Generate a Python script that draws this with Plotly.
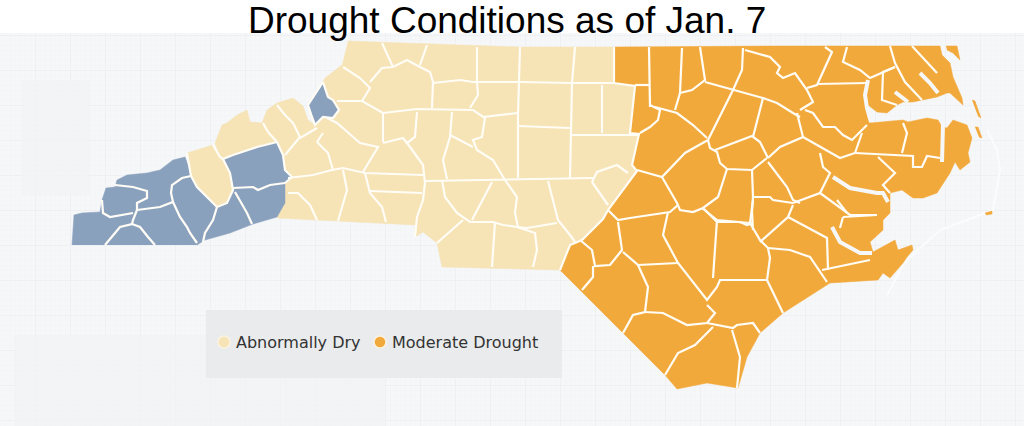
import plotly.graph_objects as go

WIDTH = 1024
HEIGHT = 426

TITLE = "Drought Conditions as of Jan. 7"
LEGEND_LABELS = ["Abnormally Dry", "Moderate Drought"]
LEGEND_X = [224, 380]
LEGEND_Y = [342, 342]
LEGEND_TEXT_X = [236, 392]
LEGEND_TEXT_Y = [344, 344]

COLOR_DRY = "#f6e3b6"
COLOR_MODERATE = "#f2a93b"
COLOR_OTHER = "#8aa1bd"
COLOR_WATER = "#f6f7f9"
COLOR_LINE = "#fffdf6"

# region outlines
DRY_OUTLINE = [
    (348, 41), (427, 44), (477, 46), (520, 47), (575, 47), (615, 47), (614, 83), (635, 86),
    (630, 133), (639, 134), (632, 165), (637, 171), (608, 210), (603, 219), (582, 240),
    (570, 245), (565, 257), (560, 270), (442, 267), (437, 243), (423, 232), (415, 237),
    (415, 225), (277, 218), (285, 203), (285, 183), (292, 177), (285, 170), (283, 155),
    (277, 142), (257, 147), (233, 155), (223, 159), (220, 157), (215, 143), (222, 125),
    (227, 123), (237, 115), (247, 110), (250, 122), (262, 123), (267, 110), (277, 103),
    (293, 98), (303, 106), (308, 120), (315, 125), (323, 82), (325, 78), (342, 65),
]
MODERATE_OUTLINE = [
    (615, 47), (780, 46), (940, 46), (942, 55), (950, 63), (953, 77), (962, 98), (963, 105),
    (950, 93), (947, 93), (937, 97), (923, 100), (913, 102), (903, 102), (897, 105),
    (887, 113), (877, 112), (868, 105), (867, 115), (870, 123), (903, 120), (908, 122),
    (927, 118), (938, 120), (942, 127), (947, 128), (953, 120), (967, 125), (972, 138),
    (968, 153), (970, 162), (960, 170), (955, 162), (950, 173), (937, 193), (923, 198),
    (913, 198), (902, 190), (890, 193), (890, 205), (890, 213), (883, 220), (883, 230),
    (870, 242), (873, 252), (895, 240), (898, 250), (912, 245), (913, 250), (907, 257),
    (903, 263), (890, 278), (883, 273), (878, 280), (830, 283), (783, 313), (760, 333),
    (747, 357), (738, 388), (707, 383), (677, 389), (665, 375), (560, 270), (565, 257),
    (570, 245), (582, 240), (603, 219), (608, 210), (637, 171), (632, 165), (639, 134),
    (630, 133), (635, 86), (614, 83),
]
OTHER_WEST = [
    (72, 245), (74, 215), (82, 213), (100, 212), (102, 200), (106, 188), (115, 187),
    (117, 180), (127, 175), (147, 173), (160, 170), (173, 160), (185, 157), (188, 165),
    (191, 176), (197, 187), (207, 197), (217, 207), (227, 203), (233, 190), (230, 173),
    (223, 159), (233, 155), (257, 147), (277, 142), (283, 155), (285, 170), (292, 177),
    (285, 183), (285, 203), (277, 217), (253, 224), (230, 233), (205, 240), (197, 245),
]
OTHER_AVERY = [
    (323, 82), (308, 105), (312, 117), (315, 125), (323, 117), (333, 118), (339, 110),
    (333, 100), (328, 97),
]
DRY_YELLOW_COUNTY = [
    (187, 153), (213, 145), (220, 157), (223, 159), (230, 173), (233, 190), (227, 203),
    (217, 207), (207, 197), (197, 187), (191, 176),
]
ISLANDS = [
    [(946, 46), (957, 46), (960, 60), (953, 53), (947, 50)],
    [(972, 100), (975, 101), (981, 118), (978, 116)],
    [(975, 127), (978, 127), (982, 138), (979, 137)],
    [(985, 213), (992, 211), (992, 214), (986, 215)],
]

# rivers and sounds cut through the coast
WATER_LINES = [
    [(868, 80), (865, 95), (867, 108), (871, 122)],
    [(943, 124), (942, 162)],
    [(920, 73), (930, 83), (938, 93)],
    [(895, 92), (908, 102)],
    [(833, 177), (850, 188), (877, 193), (883, 193), (888, 202)],
    [(832, 227), (840, 242), (860, 253), (872, 253)],
]
BANKS_LINE = [
    (987, 130), (997, 150), (1000, 170), (993, 210), (967, 220), (940, 230), (905, 262), (887, 295),
]

WEST_COUNTY_LINES = [
    [(115, 185), (133, 187), (147, 191), (147, 198), (137, 203), (137, 210), (133, 220), (132, 224),
     (120, 227), (112, 237), (105, 245)],
    [(132, 224), (140, 227), (148, 237), (155, 245)],
    [(102, 200), (103, 213), (110, 217), (133, 213)],
    [(137, 210), (160, 207), (173, 202), (180, 217), (187, 227), (190, 233), (197, 243)],
    [(191, 176), (182, 178), (172, 185), (171, 193), (173, 202)],
    [(217, 207), (213, 220), (205, 233), (203, 242)],
    [(235, 192), (247, 213), (252, 224)],
    [(233, 188), (253, 187), (258, 190), (270, 185), (285, 183)],
    [(187, 153), (191, 176), (197, 187), (207, 197), (217, 207), (227, 203), (233, 190), (230, 173),
     (223, 159), (220, 157), (213, 145)],
    [(223, 159), (233, 155), (257, 147), (277, 142), (283, 155), (285, 170), (292, 177), (285, 183)],
    [(323, 82), (308, 105), (312, 117), (315, 125), (323, 117), (333, 118), (339, 110), (333, 100),
     (328, 97), (323, 82)],
]
DRY_COUNTY_LINES = [
    [(268, 132), (277, 142)],
    [(263, 123), (268, 132)],
    [(277, 105), (285, 115), (293, 123), (300, 137), (285, 155)],
    [(300, 138), (317, 128)],
    [(317, 142), (328, 153), (333, 170)],
    [(323, 133), (317, 142)],
    [(288, 193), (298, 193), (310, 205), (317, 220)],
    [(288, 178), (313, 175), (332, 170), (343, 168), (365, 173), (423, 175)],
    [(343, 170), (347, 190), (338, 221)],
    [(365, 173), (370, 193), (382, 207), (386, 222)],
    [(370, 191), (422, 193)],
    [(327, 118), (337, 123), (360, 143), (370, 145), (378, 147), (363, 172)],
    [(337, 101), (362, 101), (383, 113)],
    [(343, 67), (360, 78), (370, 88), (362, 101)],
    [(370, 82), (382, 68), (393, 67), (407, 60), (420, 67), (430, 72), (433, 82), (432, 108)],
    [(382, 43), (393, 67)],
    [(427, 45), (420, 65)],
    [(433, 83), (460, 80), (473, 82), (520, 82), (572, 83), (614, 83)],
    [(477, 47), (477, 82), (478, 95), (470, 108)],
    [(520, 47), (518, 115), (518, 178)],
    [(575, 47), (572, 83), (570, 178)],
    [(383, 113), (417, 109), (473, 110), (485, 118), (482, 137), (473, 140), (477, 150), (493, 160),
     (505, 180), (517, 197), (515, 213), (518, 227)],
    [(483, 117), (518, 113)],
    [(518, 126), (570, 128)],
    [(383, 113), (383, 142)],
    [(383, 143), (403, 138), (410, 147), (423, 165), (425, 183), (423, 200), (417, 217), (415, 237)],
    [(417, 112), (415, 137), (407, 143)],
    [(452, 112), (450, 137), (443, 160), (447, 179)],
    [(450, 135), (473, 147)],
    [(425, 181), (593, 178)],
    [(442, 180), (445, 197), (457, 213), (470, 222), (493, 222), (503, 225), (517, 227), (527, 228),
     (557, 223)],
    [(492, 182), (472, 220)],
    [(463, 220), (437, 243)],
    [(495, 222), (492, 267)],
    [(517, 227), (535, 233), (537, 250), (533, 267)],
    [(548, 181), (558, 220), (570, 235), (575, 242)],
    [(592, 182), (597, 172), (617, 165), (628, 173)],
    [(592, 182), (600, 193), (608, 205)],
    [(602, 85), (602, 133)],
    [(572, 135), (639, 135)],
]
MODERATE_COUNTY_LINES = [
    [(614, 47), (614, 83), (635, 86), (630, 133), (639, 134), (632, 165), (637, 171), (608, 210),
     (603, 219), (582, 240), (570, 245), (565, 257), (560, 270)],
    [(649, 47), (650, 107)],
    [(635, 85), (650, 85)],
    [(650, 105), (660, 110), (658, 120), (650, 127), (640, 133)],
    [(655, 107), (677, 113), (693, 125), (707, 138)],
    [(682, 48), (680, 93), (675, 110)],
    [(700, 47), (705, 80), (692, 90), (680, 93)],
    [(705, 82), (733, 90), (763, 98), (753, 137)],
    [(743, 48), (742, 70), (733, 90), (708, 140)],
    [(745, 50), (770, 57), (780, 67), (777, 73), (783, 78), (795, 73), (807, 90), (813, 102), (800, 110)],
    [(763, 98), (777, 103), (793, 113), (800, 117)],
    [(708, 140), (685, 153), (662, 177), (637, 170)],
    [(708, 140), (710, 148), (717, 152), (720, 163), (727, 169), (752, 170), (767, 158)],
    [(715, 150), (752, 136), (760, 142), (768, 158)],
    [(768, 158), (780, 147), (803, 137), (797, 113)],
    [(768, 162), (787, 187), (793, 200), (800, 203)],
    [(752, 170), (753, 197), (752, 212), (753, 230)],
    [(753, 197), (770, 197), (773, 200), (793, 203)],
    [(727, 169), (718, 197), (703, 208), (693, 212), (680, 210), (677, 203), (662, 177)],
    [(703, 208), (717, 222), (740, 222), (747, 225), (753, 223)],
    [(678, 205), (670, 212), (630, 218), (618, 220), (608, 210)],
    [(618, 222), (622, 250), (610, 265), (595, 266), (592, 250), (580, 240)],
    [(593, 266), (593, 277), (582, 290)],
    [(623, 252), (638, 265), (648, 287), (645, 312), (633, 315), (623, 333)],
    [(638, 265), (678, 263)],
    [(668, 212), (663, 235), (678, 263), (707, 300), (717, 287), (720, 280), (767, 280)],
    [(717, 220), (713, 278)],
    [(702, 208), (717, 220), (750, 223), (753, 200)],
    [(750, 223), (760, 240), (768, 248), (770, 258), (767, 280), (783, 313)],
    [(760, 242), (788, 217), (793, 205)],
    [(788, 217), (827, 238), (828, 270)],
    [(768, 248), (790, 250), (810, 257), (827, 282)],
    [(822, 270), (870, 260)],
    [(843, 217), (877, 215)],
    [(843, 217), (840, 228)],
    [(847, 213), (837, 200)],
    [(645, 312), (663, 313), (687, 325), (707, 323), (715, 313), (707, 305)],
    [(707, 323), (733, 328), (737, 325), (753, 323), (760, 333)],
    [(713, 327), (695, 345), (678, 353), (665, 375)],
    [(732, 330), (740, 357), (737, 388)],
    [(825, 47), (832, 52), (817, 85), (807, 88)],
    [(817, 84), (867, 83)],
    [(847, 47), (843, 62), (860, 70), (870, 78), (895, 67)],
    [(890, 46), (895, 63), (905, 82), (922, 100)],
    [(912, 46), (937, 73)],
    [(895, 67), (883, 72), (882, 100), (897, 105)],
    [(805, 110), (813, 113), (823, 127), (835, 127), (843, 135), (852, 140), (867, 125)],
    [(803, 137), (840, 158), (855, 153), (862, 133)],
    [(855, 153), (913, 156), (913, 167), (922, 167), (927, 156), (940, 158)],
    [(903, 123), (907, 133), (902, 153)],
    [(820, 153), (823, 167), (830, 173), (820, 193), (793, 203)],
    [(820, 193), (850, 215), (877, 215)],
    [(878, 157), (895, 173), (883, 185), (890, 193)],
]


def _xy(lines):
    """Flatten polylines into x/y lists with None gaps between them."""
    xs, ys = [], []
    for line in lines:
        xs += [p[0] for p in line] + [None]
        ys += [p[1] for p in line] + [None]
    return xs, ys


def _fill(lines, color, name):
    xs, ys = _xy(lines)
    return go.Scatter(x=xs, y=ys, mode="lines", fill="toself", fillcolor=color, name=name,
                      line=dict(color=color, width=0.5), hoverinfo="name", showlegend=False)


def _stroke(lines, color, width):
    xs, ys = _xy(lines)
    return go.Scatter(x=xs, y=ys, mode="lines", line=dict(color=color, width=width),
                      hoverinfo="skip", showlegend=False)


fig = go.Figure()
fig.add_trace(_stroke([BANKS_LINE], "#fbfcfd", 2))
fig.add_trace(_fill([DRY_OUTLINE], COLOR_DRY, LEGEND_LABELS[0]))
fig.add_trace(_fill([MODERATE_OUTLINE] + ISLANDS, COLOR_MODERATE, LEGEND_LABELS[1]))
fig.add_trace(_fill([OTHER_WEST, OTHER_AVERY], COLOR_OTHER, "Other"))
fig.add_trace(_fill([DRY_YELLOW_COUNTY], COLOR_DRY, LEGEND_LABELS[0]))
fig.add_trace(_stroke(WATER_LINES, COLOR_WATER, 4))
fig.add_trace(_stroke(WEST_COUNTY_LINES + DRY_COUNTY_LINES + MODERATE_COUNTY_LINES, COLOR_LINE, 2.2))
fig.add_trace(go.Scatter(
    x=LEGEND_X, y=LEGEND_Y, mode="markers",
    marker=dict(size=12, color=[COLOR_DRY, COLOR_MODERATE], line=dict(color="#fbf3df", width=1.5)),
    hoverinfo="skip", showlegend=False,
))
fig.add_trace(go.Scatter(
    x=LEGEND_TEXT_X, y=LEGEND_TEXT_Y, mode="text",
    text=LEGEND_LABELS, textposition="middle right",
    textfont=dict(family="DejaVu Sans", size=16, color="#333333"),
    hoverinfo="skip", showlegend=False,
))

# white band behind the title, faint panels and the legend box (over the grid, under the map)
fig.add_shape(type="rect", x0=0, x1=WIDTH, y0=0, y1=33, layer="between", fillcolor="white", line_width=0)
fig.add_shape(type="rect", x0=22, x1=90, y0=80, y1=195, layer="between", fillcolor="#f1f2f4", opacity=0.8, line_width=0)
fig.add_shape(type="rect", x0=14, x1=385, y0=335, y1=426, layer="between", fillcolor="#f1f2f4", opacity=0.8, line_width=0)
fig.add_shape(type="rect", x0=206, x1=562, y0=310, y1=378, layer="between", fillcolor="#e9eaec", opacity=0.95, line_width=0)

fig.add_annotation(x=507, y=20, text=TITLE, showarrow=False,
                   font=dict(family="Liberation Sans", size=37, color="black"))

axis = dict(visible=True, showticklabels=False, ticks="", zeroline=False, showline=False,
            showgrid=True, gridcolor="#eef0f3", gridwidth=1,
            minor=dict(showgrid=True, gridcolor="#f3f5f7", dtick=5))
fig.update_xaxes(range=[0, WIDTH], dtick=35, **axis)
fig.update_yaxes(range=[HEIGHT, 0], dtick=35, **axis)
fig.update_layout(
    width=WIDTH, height=HEIGHT, margin=dict(l=0, r=0, t=0, b=0),
    paper_bgcolor="white", plot_bgcolor=COLOR_WATER, showlegend=False,
)
# drop the browser's default body margin so the figure fills the window
fig.write_html("out.html", config={"displayModeBar": False},
               post_script="document.body.style.margin = '0';")
